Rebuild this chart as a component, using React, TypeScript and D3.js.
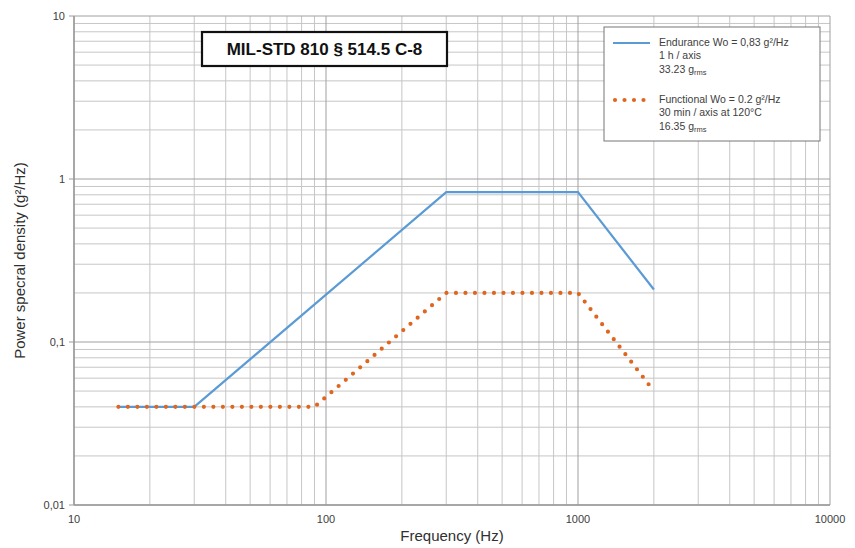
import React from "react";
import * as d3 from "d3";

const xTicks = [10, 100, 1000, 10000];
const xTickLabels = ["10", "100", "1000", "10000"];
const yTicks = [0.01, 0.1, 1, 10];
const yTickLabels = ["0,01", "0,1", "1", "10"];

const enduranceFreq = [15, 30, 300, 1000, 2000];
const enduranceVal = [0.04, 0.04, 0.83, 0.83, 0.21];
const functionalFreq = [15, 90, 300, 1000, 2000];
const functionalVal = [0.04, 0.04, 0.2, 0.2, 0.05];

const titleText = "MIL-STD 810 § 514.5 C-8";
const xLabel = "Frequency (Hz)";
const yLabel = "Power specral density (g²/Hz)";

const W = 855;
const H = 548;
const M = { left: 74, right: 25, top: 16, bottom: 43 };

export default function App() {
  const x = d3.scaleLog().domain([10, 10000]).range([M.left, W - M.right]);
  const y = d3.scaleLog().domain([0.01, 10]).range([H - M.bottom, M.top]);

  const minorX: number[] = [];
  for (let d = 10; d < 10000; d *= 10) for (let k = 2; k <= 9; k++) minorX.push(d * k);
  const minorY: number[] = [];
  for (let d = 0.01; d < 9; d *= 10) for (let k = 2; k <= 9; k++) minorY.push(d * k);

  const line = d3
    .line<[number, number]>()
    .x((d) => x(d[0]))
    .y((d) => y(d[1]));
  const endPts = enduranceFreq.map((f, i) => [f, enduranceVal[i]] as [number, number]);
  const funPts = functionalFreq.map((f, i) => [f, functionalVal[i]] as [number, number]);

  const font = "Arial, 'Liberation Sans', sans-serif";
  const textCol = "#404040";
  const blue = "#5b9bd5";
  const orange = "#e0661f";

  const x0 = M.left;
  const x1 = W - M.right;
  const y0 = M.top;
  const y1 = H - M.bottom;

  const lx = 604;
  const ly = 27;

  return (
    <svg width={W} height={H} style={{ position: "absolute", left: 0, top: 0, background: "#fff" }} fontFamily={font}>
      <rect x={0} y={0} width={W} height={H} fill="#fff" />
      {minorX.map((v) => (
        <line key={"mx" + v} x1={x(v)} x2={x(v)} y1={y0} y2={y1} stroke="#c6c6c6" strokeWidth={1} />
      ))}
      {minorY.map((v) => (
        <line key={"my" + v} x1={x0} x2={x1} y1={y(v)} y2={y(v)} stroke="#c6c6c6" strokeWidth={1} />
      ))}
      {xTicks.map((v) => (
        <line key={"Mx" + v} x1={x(v)} x2={x(v)} y1={y0} y2={y1} stroke="#a0a0a0" strokeWidth={1} />
      ))}
      {yTicks.map((v) => (
        <line key={"My" + v} x1={x0} x2={x1} y1={y(v)} y2={y(v)} stroke="#a0a0a0" strokeWidth={1} />
      ))}
      <line x1={x0} x2={x0} y1={y0} y2={y1} stroke="#9a9a9a" strokeWidth={1.5} />
      <line x1={x0} x2={x1} y1={y1} y2={y1} stroke="#9a9a9a" strokeWidth={1.5} />
      {yTicks.map((v) => (
        <line key={"ty" + v} x1={x0 - 5} x2={x0} y1={y(v)} y2={y(v)} stroke="#9a9a9a" strokeWidth={1} />
      ))}

      <path d={line(endPts) || ""} fill="none" stroke={blue} strokeWidth={2.2} />
      <path
        d={line(funPts) || ""}
        fill="none"
        stroke={orange}
        strokeWidth={4.2}
        strokeLinecap="round"
        strokeDasharray="0 9.5"
      />

      {yTicks.map((v, i) => (
        <text key={"yl" + v} x={x0 - 9} y={y(v)} dy="0.35em" textAnchor="end" fontSize={11} fill={textCol}>
          {yTickLabels[i]}
        </text>
      ))}
      {xTicks.map((v, i) => (
        <text key={"xl" + v} x={x(v)} y={y1 + 18} textAnchor="middle" fontSize={11} fill={textCol}>
          {xTickLabels[i]}
        </text>
      ))}
      <text x={(x0 + x1) / 2} y={541} textAnchor="middle" fontSize={15} fill="#303030">
        {xLabel}
      </text>
      <text
        transform={`translate(25, ${(y0 + y1) / 2}) rotate(-90)`}
        textAnchor="middle"
        fontSize={15}
        fill="#303030"
      >
        {yLabel}
      </text>

      <rect x={202} y={32} width={245} height={34} fill="#fff" stroke="#111" strokeWidth={2.2} />
      <text x={324.5} y={55} textAnchor="middle" fontSize={17} fontWeight="bold" fill="#111">
        {titleText}
      </text>

      <rect x={lx} y={ly} width={216} height={114} fill="#fff" stroke="#777" strokeWidth={1} />
      <line x1={lx + 9} x2={lx + 46} y1={ly + 16} y2={ly + 16} stroke={blue} strokeWidth={2.2} />
      <line
        x1={lx + 11}
        x2={lx + 46}
        y1={ly + 73}
        y2={ly + 73}
        stroke={orange}
        strokeWidth={4.2}
        strokeLinecap="round"
        strokeDasharray="0 9.5"
      />
      <g fontSize={10.5} fill={textCol}>
        <text x={lx + 55} y={ly + 19}>Endurance Wo = 0,83 g²/Hz</text>
        <text x={lx + 55} y={ly + 32}>1 h / axis</text>
        <text x={lx + 55} y={ly + 46}>
          33.23 g<tspan fontSize={7.5} dy={1.5}>rms</tspan>
        </text>
        <text x={lx + 55} y={ly + 76}>Functional Wo = 0.2 g²/Hz</text>
        <text x={lx + 55} y={ly + 89}>30 min / axis at 120°C</text>
        <text x={lx + 55} y={ly + 103}>
          16.35 g<tspan fontSize={7.5} dy={1.5}>rms</tspan>
        </text>
      </g>
    </svg>
  );
}
